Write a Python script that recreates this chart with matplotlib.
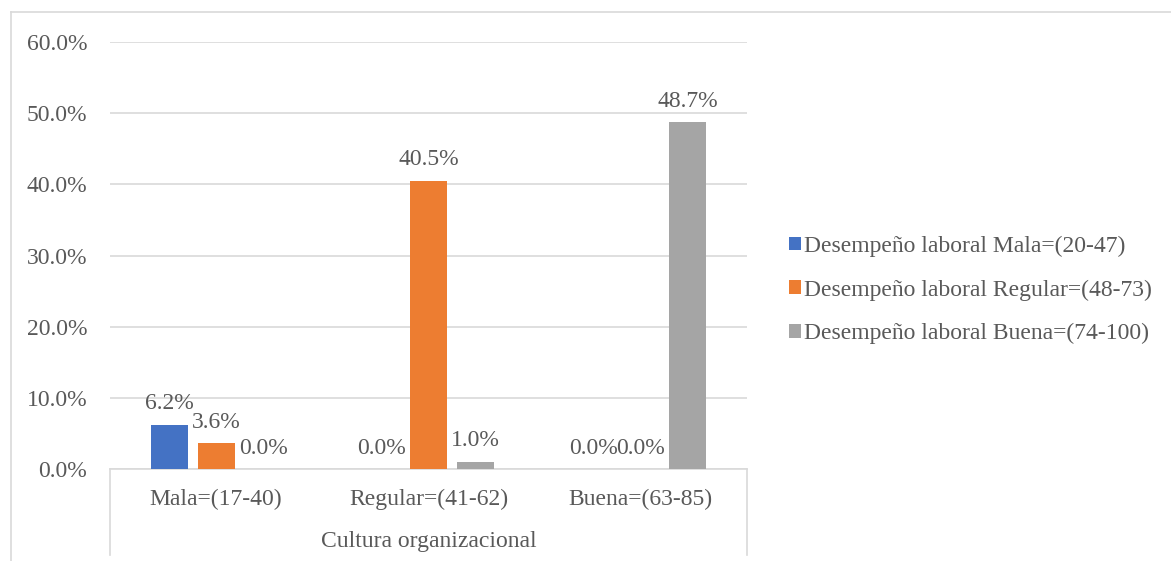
import matplotlib.pyplot as plt
import numpy as np
from matplotlib.lines import Line2D

plt.rcParams['font.family'] = ['Liberation Serif', 'DejaVu Serif']

categories = ['Mala=(17-40)', 'Regular=(41-62)', 'Buena=(63-85)']
series_names = ['Desempeño laboral Mala=(20-47)',
                'Desempeño laboral Regular=(48-73)',
                'Desempeño laboral Buena=(74-100)']
mala = [6.2, 0.0, 0.0]
regular = [3.6, 40.5, 0.0]
buena = [0.0, 1.0, 48.7]
yticks = [0, 10, 20, 30, 40, 50, 60]
axis_title = 'Cultura organizacional'

colors = ['#4472c4', '#ed7d31', '#a5a5a5']
text_col = '#595959'
grid_col = '#d9d9d9'
fs = 17

W, H = 1171, 561
fig = plt.figure(figsize=(W / 100, H / 100), dpi=100)
ax = fig.add_axes([110 / W, (H - 469) / H, (747 - 110) / W, (469 - 42) / H])

x = np.arange(len(categories))
w = 1 / 5.73
step = 1.27 * w
for i, (vals, c, name) in enumerate(zip([mala, regular, buena], colors, series_names)):
    pos = x + (i - 1) * step
    ax.bar(pos, vals, width=w, color=c, label=name, zorder=3)
    for px, v in zip(pos, vals):
        ax.annotate(f'{v:.1f}%', (px, v), xytext=(0, 7.5), textcoords='offset points',
                    ha='center', va='bottom', fontsize=fs, color=text_col)

ax.set_xlim(-0.5, 2.5)
ax.set_ylim(0, 60)
ax.set_yticks(yticks)
ax.set_yticklabels([f'{t:.1f}%' for t in yticks], fontsize=fs, color=text_col)
ax.tick_params(axis='y', length=0, pad=16.5)
ax.set_xticks(x)
ax.set_xticklabels(categories, fontsize=fs, color=text_col)
ax.tick_params(axis='x', length=0, pad=14.5)
ax.grid(axis='y', color=grid_col, linewidth=1.2, zorder=0)
for s in ['top', 'right', 'left']:
    ax.spines[s].set_visible(False)
ax.spines['bottom'].set_color(grid_col)
ax.spines['bottom'].set_linewidth(1.2)

# outer lines of the two-level category axis
ext = -(555 - 469) / (469 - 42)
for xa in (0, 1):
    ax.add_line(Line2D([xa, xa], [0, ext], transform=ax.transAxes, color=grid_col,
                       linewidth=1.2, clip_on=False))
ax.text(0.5, -(541 - 469) / (469 - 42), axis_title, transform=ax.transAxes,
        ha='center', va='center', fontsize=fs, color=text_col)

# chart area border
fig.add_artist(Line2D([11 / W, 1], [1 - 12 / H, 1 - 12 / H], color=grid_col, linewidth=1.2))
fig.add_artist(Line2D([11 / W, 11 / W], [0, 1 - 12 / H], color=grid_col, linewidth=1.2))

leg = ax.legend(loc='center left', bbox_to_anchor=(777 / W, (H - 290) / H),
                bbox_transform=fig.transFigure, frameon=False, fontsize=fs,
                handlelength=0.5, handleheight=0.5, handletextpad=0.15,
                labelspacing=0.95, borderpad=0)
for t in leg.get_texts():
    t.set_color(text_col)

fig.savefig('out.png', dpi=100)
